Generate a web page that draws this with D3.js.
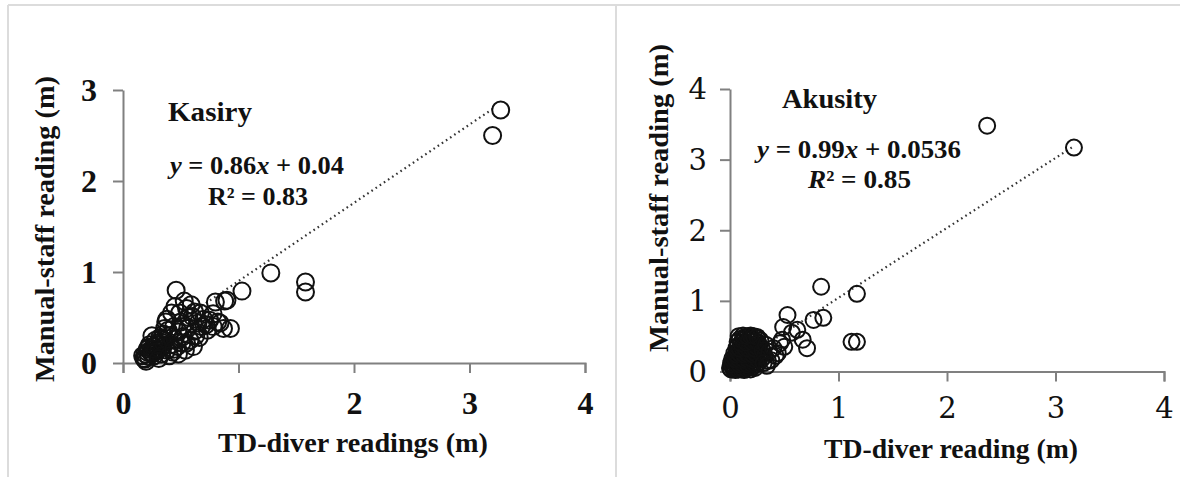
<!DOCTYPE html>
<html>
<head>
<meta charset="utf-8">
<script src="https://cdn.jsdelivr.net/npm/d3@7"></script>
<style>
  html, body { margin: 0; padding: 0; background: #fff; }
  svg { display: block; }
</style>
</head>
<body>
<svg id="chart" width="1180" height="477"></svg>
<script>
// ---- Data ----
const xTicks = [0, 1, 2, 3, 4];
const kasiryYTicks = [0, 1, 2, 3];
const akusityYTicks = [0, 1, 2, 3, 4];

// Kasiry station: TD-diver vs manual staff readings (m)
const kasiryX = [0.18,0.20,0.19,0.21,0.22,0.24,0.23,0.26,0.27,0.28,0.30,0.30,0.32,0.33,0.34,0.35,0.36,0.37,0.38,0.38,
  0.39,0.40,0.41,0.42,0.43,0.44,0.45,0.45,0.46,0.47,0.48,0.49,0.50,0.51,0.52,0.53,0.54,0.55,0.56,0.57,
  0.58,0.59,0.60,0.61,0.62,0.63,0.65,0.67,0.68,0.70,0.72,0.75,0.78,0.80,0.82,0.84,0.88,0.90,0.87,0.93,
  1.03,1.28,1.58,1.58,3.20,3.27,
  0.17,0.19,0.21,0.22,0.25,0.27,0.29,0.31,0.33,0.35,
  0.25,0.28,0.31,0.36,0.40,0.44,0.48,0.52,0.55,0.62,0.66,0.73,0.78];
const kasiryY = [0.05,0.02,0.10,0.15,0.07,0.12,0.20,0.18,0.08,0.25,0.14,0.22,0.28,0.10,0.18,0.32,0.24,0.45,0.14,0.48,
  0.36,0.30,0.20,0.55,0.12,0.40,0.26,0.62,0.80,0.18,0.34,0.55,0.45,0.22,0.29,0.68,0.14,0.60,0.38,0.50,
  0.25,0.64,0.51,0.18,0.56,0.30,0.44,0.55,0.40,0.48,0.42,0.47,0.54,0.67,0.45,0.44,0.68,0.69,0.38,0.38,
  0.79,0.99,0.89,0.78,2.50,2.78,
  0.08,0.04,0.12,0.17,0.10,0.15,0.20,0.16,0.26,0.22,
  0.30,0.12,0.05,0.38,0.08,0.15,0.10,0.40,0.22,0.35,0.28,0.36,0.40];
const kasiryFit = { slope: 0.86, intercept: 0.04, r2: 0.83 };

// Akusity station
const akusityX = [
  0.00,0.01,0.02,0.03,0.04,0.05,0.06,0.07,0.08,0.09,0.10,0.11,0.12,0.13,0.14,0.15,0.17,0.19,0.21,0.23,
  0.01,0.02,0.03,0.05,0.06,0.08,0.09,0.10,0.12,0.13,0.15,0.16,0.18,0.20,0.22,0.24,0.26,
  0.02,0.04,0.05,0.07,0.08,0.10,0.11,0.13,0.14,0.16,0.17,0.19,0.21,0.23,0.25,0.27,0.29,
  0.04,0.06,0.07,0.09,0.10,0.12,0.13,0.15,0.16,0.18,0.19,0.21,0.22,0.24,0.26,0.28,0.30,
  0.06,0.07,0.09,0.11,0.12,0.14,0.15,0.17,0.18,0.20,0.22,0.23,0.25,0.27,0.29,
  0.07,0.09,0.10,0.12,0.13,0.15,0.17,0.18,0.20,0.21,0.23,0.25,0.26,0.28,
  0.08,0.12,0.16,0.19,0.22,0.25,
  0.30,0.32,0.33,0.35,0.36,0.38,0.40,0.42,0.44,0.46,0.48,0.50,0.31,0.34,
  0.49,0.53,0.57,0.62,0.67,0.71,0.77,0.86,0.84,1.17,1.12,1.17,2.37,3.17];
const akusityY = [
  0.05,0.03,0.07,0.04,0.06,0.02,0.08,0.05,0.03,0.06,0.04,0.08,0.05,0.02,0.07,0.04,0.06,0.03,0.07,0.05,
  0.12,0.10,0.14,0.11,0.15,0.12,0.10,0.14,0.11,0.15,0.12,0.10,0.14,0.11,0.13,0.10,0.12,
  0.18,0.20,0.17,0.21,0.18,0.22,0.19,0.17,0.21,0.18,0.22,0.19,0.17,0.21,0.18,0.20,0.17,
  0.26,0.24,0.28,0.25,0.29,0.26,0.24,0.28,0.25,0.29,0.26,0.24,0.28,0.25,0.29,0.26,0.24,
  0.33,0.36,0.32,0.35,0.38,0.33,0.36,0.32,0.37,0.34,0.38,0.32,0.35,0.37,0.33,
  0.42,0.46,0.40,0.44,0.48,0.41,0.45,0.47,0.42,0.46,0.43,0.47,0.41,0.44,
  0.50,0.51,0.50,0.51,0.50,0.49,
  0.30,0.22,0.38,0.15,0.28,0.16,0.33,0.22,0.26,0.40,0.45,0.35,0.12,0.08,
  0.63,0.80,0.55,0.59,0.45,0.33,0.73,0.76,1.20,1.10,0.42,0.42,3.48,3.17];
const akusityFit = { slope: 0.99, intercept: 0.0536, r2: 0.85 };

// ---- Drawing ----
const svg = d3.select("#chart");
const BOLD = "'Liberation Serif', 'Times New Roman', serif";
const PLAIN = "'DejaVu Serif', 'Liberation Serif', serif";
const AXIS = "#808080";

// panel frame lines
const frame = svg.append("g").attr("stroke", "#dcdcdc").attr("stroke-width", 2);
frame.append("line").attr("x1", 8).attr("x2", 1180).attr("y1", 5).attr("y2", 5);
frame.append("line").attr("x1", 8).attr("x2", 8).attr("y1", 5).attr("y2", 477);
frame.append("line").attr("x1", 616).attr("x2", 616).attr("y1", 5).attr("y2", 477);

function panel(cfg) {
  const x = d3.scaleLinear().domain([0, 4]).range(cfg.xRange);
  const y = d3.scaleLinear().domain([0, cfg.yTicks[cfg.yTicks.length - 1]]).range(cfg.yRange);
  const g = svg.append("g");

  const xAxis = g.append("g")
    .attr("transform", `translate(0,${cfg.yRange[0]})`)
    .call(d3.axisBottom(x).tickValues(xTicks).tickFormat(d3.format("d")).tickSizeInner(10).tickSizeOuter(10));
  const yAxis = g.append("g")
    .attr("transform", `translate(${cfg.xRange[0]},0)`)
    .call(d3.axisLeft(y).tickValues(cfg.yTicks).tickFormat(d3.format("d")).tickSizeInner(10).tickSizeOuter(0));

  [xAxis, yAxis].forEach(a => {
    a.select(".domain").attr("stroke", AXIS).attr("stroke-width", 2);
    a.selectAll(".tick line").attr("stroke", AXIS).attr("stroke-width", 2);
    a.selectAll(".tick text")
      .attr("fill", "#111")
      .style("font-family", cfg.tickFont)
      .style("font-weight", cfg.tickWeight)
      .style("font-size", cfg.tickSize + "px");
  });
  xAxis.selectAll(".tick text").attr("y", cfg.xTickBase - cfg.yRange[0]).attr("dy", 0);
  yAxis.selectAll(".tick text").attr("x", cfg.yTickRight - cfg.xRange[0]).attr("dy", "0.34em");

  // trend line from the fitted equation
  const fit = cfg.fit;
  g.append("line")
    .attr("x1", x(cfg.lineFrom)).attr("y1", y(fit.slope * cfg.lineFrom + fit.intercept))
    .attr("x2", x(cfg.lineTo)).attr("y2", y(fit.slope * cfg.lineTo + fit.intercept))
    .attr("stroke", "#333").attr("stroke-width", 2.2).attr("stroke-dasharray", "1.6,3.4");

  // observations as open circles
  g.append("g").selectAll("circle")
    .data(cfg.xs.map((v, i) => [v, cfg.ys[i]]))
    .join("circle")
    .attr("cx", d => x(d[0])).attr("cy", d => y(d[1]))
    .attr("r", cfg.r)
    .attr("fill", "none").attr("stroke", "#111").attr("stroke-width", 2);

  // axis titles
  g.append("text")
    .attr("x", cfg.xTitle[0]).attr("y", cfg.xTitle[1])
    .attr("text-anchor", "middle")
    .attr("textLength", cfg.xTitle[2]).attr("lengthAdjust", "spacingAndGlyphs")
    .style("font-family", BOLD).style("font-weight", "bold").style("font-size", "27px")
    .attr("fill", "#111").text(cfg.xTitleText);
  g.append("text")
    .attr("transform", `translate(${cfg.yTitle[0]},${cfg.yTitle[1]}) rotate(-90)`)
    .attr("text-anchor", "middle")
    .attr("textLength", cfg.yTitle[2]).attr("lengthAdjust", "spacingAndGlyphs")
    .style("font-family", BOLD).style("font-weight", "bold").style("font-size", "27px")
    .attr("fill", "#111").text("Manual-staff reading (m)");

  // station name
  g.append("text")
    .attr("x", cfg.name[0]).attr("y", cfg.name[1])
    .attr("textLength", cfg.name[2]).attr("lengthAdjust", "spacingAndGlyphs")
    .style("font-family", BOLD).style("font-weight", "bold").style("font-size", "28px")
    .attr("fill", "#111").text(cfg.nameText);

  // regression equation
  const eq = g.append("text")
    .attr("x", cfg.eq[0]).attr("y", cfg.eq[1])
    .attr("textLength", cfg.eq[2]).attr("lengthAdjust", "spacingAndGlyphs")
    .style("font-family", BOLD).style("font-weight", "bold").style("font-size", "25px")
    .attr("fill", "#111");
  eq.append("tspan").style("font-style", "italic").text("y");
  eq.append("tspan").text(` = ${fit.slope}`);
  eq.append("tspan").style("font-style", "italic").text("x");
  eq.append("tspan").text(` + ${fit.intercept}`);

  const r2 = g.append("text")
    .attr("x", cfg.r2[0]).attr("y", cfg.r2[1])
    .attr("textLength", cfg.r2[2]).attr("lengthAdjust", "spacingAndGlyphs")
    .style("font-family", BOLD).style("font-weight", "bold").style("font-size", "25px")
    .attr("fill", "#111");
  r2.append("tspan").style("font-style", cfg.r2Italic ? "italic" : "normal").text("R");
  r2.append("tspan").text(`² = ${fit.r2}`);
}

panel({
  xs: kasiryX, ys: kasiryY, fit: kasiryFit,
  xRange: [123, 585], yRange: [363, 90], yTicks: kasiryYTicks,
  tickFont: BOLD, tickWeight: "bold", tickSize: 32,
  xTickBase: 414, yTickRight: 97,
  lineFrom: 0.18, lineTo: 3.2, r: 8.5,
  xTitleText: "TD-diver readings (m)", xTitle: [353, 452, 270],
  yTitle: [54, 229, 306],
  nameText: "Kasiry", name: [168, 121, 84],
  eq: [170, 174, 174], r2: [208, 205, 100], r2Italic: false
});

panel({
  xs: akusityX, ys: akusityY, fit: akusityFit,
  xRange: [730, 1164], yRange: [371.5, 89], yTicks: akusityYTicks,
  tickFont: PLAIN, tickWeight: "normal", tickSize: 29,
  xTickBase: 418, yTickRight: 707,
  lineFrom: 0, lineTo: 3.17, r: 8,
  xTitleText: "TD-diver reading (m)", xTitle: [951, 458, 254],
  yTitle: [668, 198, 308],
  nameText: "Akusity", name: [782, 108, 95],
  eq: [757, 158, 204], r2: [808, 188, 103], r2Italic: true
});
</script>
</body>
</html>
